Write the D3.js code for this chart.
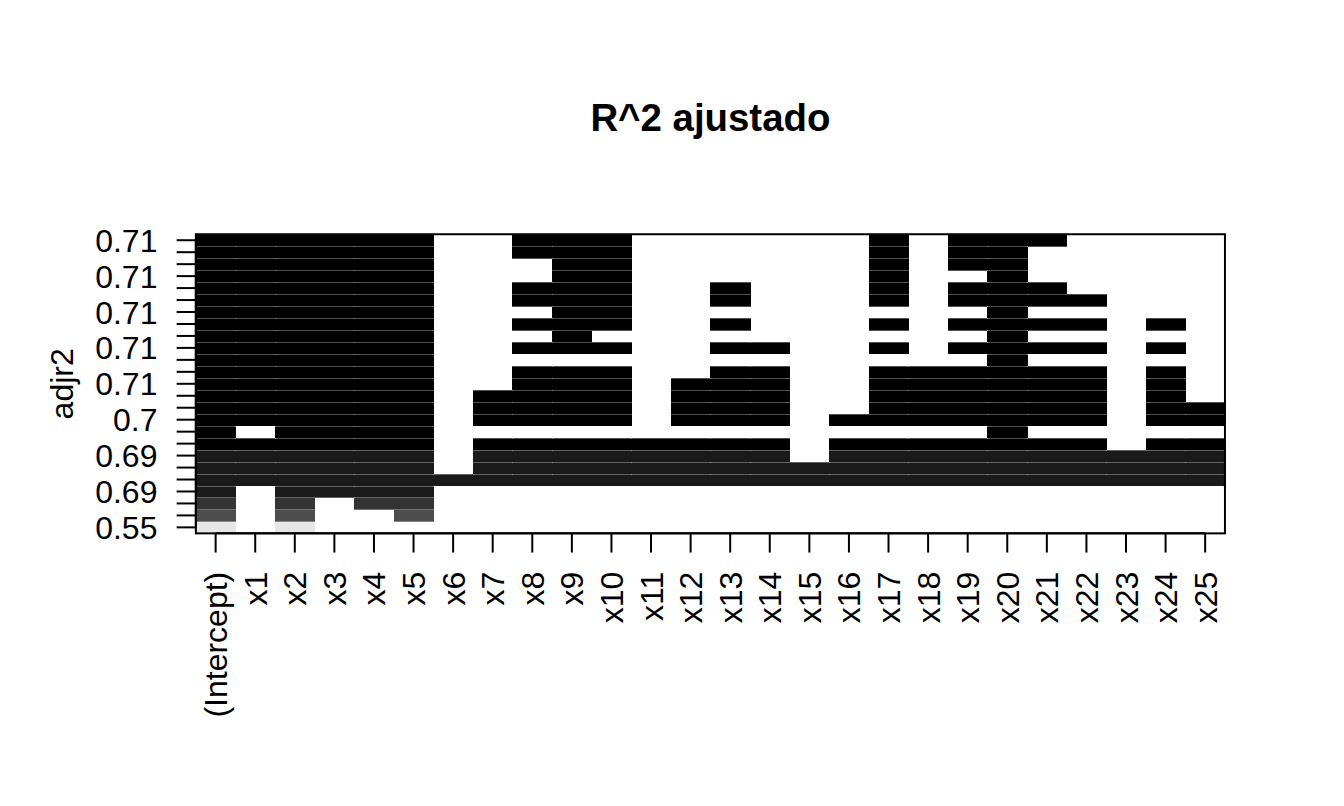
<!DOCTYPE html>
<html>
<head>
<meta charset="utf-8">
<script src="https://cdn.jsdelivr.net/npm/d3@7"></script>
<style>
  body { margin: 0; background: #ffffff; }
  svg { display: block; }
  text { font-family: "Liberation Sans", Arial, Helvetica, sans-serif; fill: #000; }
</style>
</head>
<body>
<svg id="chart" width="1344" height="806"></svg>
<script>
// ---------------- data ----------------
const variables = ["(Intercept)", "x1", "x2", "x3", "x4", "x5", "x6", "x7", "x8", "x9", "x10",
  "x11", "x12", "x13", "x14", "x15", "x16", "x17", "x18", "x19", "x20",
  "x21", "x22", "x23", "x24", "x25"];

// models sorted by adjusted R^2, from the bottom row (lowest) to the top row (highest)
const adjr2 = [0.55, 0.65, 0.67, 0.686, 0.688, 0.690, 0.691, 0.696, 0.698, 0.700,
  0.703, 0.704, 0.7055, 0.706, 0.7065, 0.707, 0.7075, 0.708, 0.7085, 0.709,
  0.7092, 0.7095, 0.7098, 0.7100, 0.7103];

// included predictors (x index) of each model, same order as adjr2; the intercept is in every model
const includedX = [
  [2],
  [2, 5],
  [2, 4, 5],
  [2, 3, 4, 5],
  [1, 2, 3, 4, 5, 6, 7, 8, 9, 10, 11, 12, 13, 14, 15, 16, 17, 18, 19, 20, 21, 22, 23, 24, 25],
  [1, 2, 3, 4, 5, 7, 8, 9, 10, 11, 12, 13, 14, 15, 16, 17, 18, 19, 20, 21, 22, 23, 24, 25],
  [1, 2, 3, 4, 5, 7, 8, 9, 10, 11, 12, 13, 14, 16, 17, 18, 19, 20, 21, 22, 23, 24, 25],
  [1, 2, 3, 4, 5, 7, 8, 9, 10, 11, 12, 13, 14, 16, 17, 18, 19, 20, 21, 22, 24, 25],
  [2, 3, 4, 5, 20],
  [1, 2, 3, 4, 5, 7, 8, 9, 10, 12, 13, 14, 16, 17, 18, 19, 20, 21, 22, 24, 25],
  [1, 2, 3, 4, 5, 7, 8, 9, 10, 12, 13, 14, 17, 18, 19, 20, 21, 22, 24, 25],
  [1, 2, 3, 4, 5, 7, 8, 9, 10, 12, 13, 14, 17, 18, 19, 20, 21, 22, 24],
  [1, 2, 3, 4, 5, 8, 9, 10, 12, 13, 14, 17, 18, 19, 20, 21, 22, 24],
  [1, 2, 3, 4, 5, 8, 9, 10, 13, 14, 17, 18, 19, 20, 21, 22, 24],
  [1, 2, 3, 4, 5, 20],
  [1, 2, 3, 4, 5, 8, 9, 10, 13, 14, 17, 19, 20, 21, 22, 24],
  [1, 2, 3, 4, 5, 9, 20],
  [1, 2, 3, 4, 5, 8, 9, 10, 13, 17, 19, 20, 21, 22, 24],
  [1, 2, 3, 4, 5, 9, 10, 20],
  [1, 2, 3, 4, 5, 8, 9, 10, 13, 17, 19, 20, 21, 22],
  [1, 2, 3, 4, 5, 8, 9, 10, 13, 17, 19, 20, 21],
  [1, 2, 3, 4, 5, 9, 10, 17, 20],
  [1, 2, 3, 4, 5, 9, 10, 17, 19, 20],
  [1, 2, 3, 4, 5, 8, 9, 10, 17, 19, 20],
  [1, 2, 3, 4, 5, 8, 9, 10, 17, 19, 20, 21]
];

const grayLevels = [0, 0.1, 0.2, 0.3, 0.4, 0.5, 0.6, 0.7, 0.8, 0.9];
const title = "R^2 ajustado";
const yTitle = "adjr2";

// ---------------- layout ----------------
const W = 1344, H = 806;
const lineH = 38.4;            // one margin line
const fs = 32;                 // base font size
const plot = { left: 5.1 * lineH, right: W - 3.1 * lineH, top: 6.1 * lineH, bottom: H - 7.1 * lineH };
const tickLen = 0.5 * lineH;

const svg = d3.select("#chart");

const rowIds = d3.range(1, adjr2.length + 1);
const x = d3.scaleBand().domain(variables).range([plot.left, plot.right]).padding(0);
const y = d3.scaleBand().domain(rowIds).range([plot.bottom, plot.top]).padding(0);

const colorscale = adjr2.map(v => -Math.log(Math.max(v, 0.0001)));
const color = d3.scaleQuantize()
  .domain(d3.extent(colorscale))
  .range(grayLevels.map(g => d3.rgb(Math.round(g * 255), Math.round(g * 255), Math.round(g * 255)).formatHex()));

// matrix of included flags
const included = includedX.map(list => {
  const s = new Set(list);
  return variables.map((v, j) => j === 0 ? true : s.has(j));
});

// cells
const cells = [];
included.forEach((row, i) => {
  row.forEach((inc, j) => {
    if (inc) cells.push({ row: rowIds[i], v: variables[j], c: colorscale[i] });
  });
});

svg.append("g").selectAll("rect").data(cells).join("rect")
  .attr("x", d => x(d.v))
  .attr("y", d => y(d.row))
  .attr("width", x.bandwidth() + 0.6)
  .attr("height", y.bandwidth() + 0.6)
  .attr("fill", d => color(d.c))
  .attr("shape-rendering", "crispEdges");

// horizontal seams between rows (where a cell is drawn)
const seams = [];
for (let i = 0; i < rowIds.length - 1; i++) {
  const yb = y(rowIds[i]);   // top of row i == bottom of row i+1
  variables.forEach((v, j) => {
    if (included[i][j] || included[i + 1][j]) seams.push({ y: yb, v });
  });
}
svg.append("g").selectAll("rect").data(seams).join("rect")
  .attr("x", d => x(d.v))
  .attr("y", d => Math.round(d.y) - 0.5)
  .attr("width", x.bandwidth() + 0.6)
  .attr("height", 1)
  .attr("fill", "rgba(255,255,255,0.32)")
  .attr("shape-rendering", "crispEdges");

// box
svg.append("rect")
  .attr("x", plot.left).attr("y", plot.top)
  .attr("width", plot.right - plot.left).attr("height", plot.bottom - plot.top)
  .attr("fill", "none").attr("stroke", "#000").attr("stroke-width", 2);

// x axis
const xAxis = svg.append("g");
variables.forEach(v => {
  const cx = x(v) + x.bandwidth() / 2;
  xAxis.append("line")
    .attr("x1", cx).attr("x2", cx)
    .attr("y1", plot.bottom).attr("y2", plot.bottom + tickLen)
    .attr("stroke", "#000").attr("stroke-width", 2);
  xAxis.append("text")
    .attr("transform", `translate(${cx + fs * 0.36},${plot.bottom + lineH}) rotate(-90)`)
    .attr("text-anchor", "end")
    .attr("font-size", fs)
    .text(v);
});
xAxis.append("line")
  .attr("x1", x(variables[0]) + x.bandwidth() / 2)
  .attr("x2", x(variables[variables.length - 1]) + x.bandwidth() / 2)
  .attr("y1", plot.bottom).attr("y2", plot.bottom)
  .attr("stroke", "#000").attr("stroke-width", 2);

// y axis
const yAxis = svg.append("g");
const fmt = v => String(Number(v.toPrecision(2)));
rowIds.forEach((r, i) => {
  const cy = y(r) + y.bandwidth() / 2;
  yAxis.append("line")
    .attr("x1", plot.left - tickLen).attr("x2", plot.left)
    .attr("y1", cy).attr("y2", cy)
    .attr("stroke", "#000").attr("stroke-width", 2);
  if (i % 3 === 0) {
    yAxis.append("text")
      .attr("x", plot.left - lineH)
      .attr("y", cy + fs * 0.36)
      .attr("text-anchor", "end")
      .attr("font-size", fs)
      .text(fmt(adjr2[i]));
  }
});
yAxis.append("line")
  .attr("x1", plot.left).attr("x2", plot.left)
  .attr("y1", y(rowIds[0]) + y.bandwidth() / 2)
  .attr("y2", y(rowIds[rowIds.length - 1]) + y.bandwidth() / 2)
  .attr("stroke", "#000").attr("stroke-width", 2);

// y title
svg.append("text")
  .attr("transform", `translate(${plot.left - 3.2 * lineH},${(plot.top + plot.bottom) / 2}) rotate(-90)`)
  .attr("text-anchor", "middle")
  .attr("font-size", fs)
  .text(yTitle);

// main title
svg.append("text")
  .attr("x", (plot.left + plot.right) / 2)
  .attr("y", plot.top - 3.05 * lineH + 1.2 * fs * 0.36)
  .attr("text-anchor", "middle")
  .attr("font-size", 1.2 * fs)
  .attr("font-weight", "bold")
  .text(title);
</script>
</body>
</html>
